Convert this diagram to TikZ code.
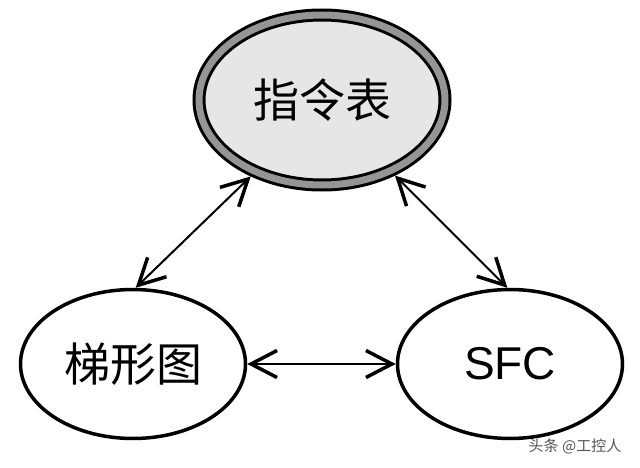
\documentclass[tikz,border=0pt]{standalone}
\usepackage{fontspec}
\setmainfont{Liberation Sans}
\newfontfamily\cjk{Noto Sans CJK SC}
\usetikzlibrary{shapes.geometric,arrows.meta}
\definecolor{ringgray}{HTML}{959595}
\definecolor{innerfill}{HTML}{E6E6E6}
\definecolor{wmgray}{HTML}{555555}
\tikzset{
  bubble/.style={ellipse, draw=black, line width=3.5pt, fill=white, inner sep=0pt,
    minimum width=225pt, minimum height=149pt, font=\fontsize{46}{50}\selectfont},
  mainbubble/.style={ellipse, draw=black, line width=3pt, double=ringgray, double distance=7pt,
    fill=innerfill, inner sep=0pt, minimum width=246pt, minimum height=170pt, outer sep=6.5pt,
    font=\fontsize{46}{50}\selectfont},
  link/.style={line width=2pt,
    {Straight Barb[length=26pt,width=27pt,line width=3.5pt]}-{Straight Barb[length=26pt,width=27pt,line width=3.5pt]}}
}
\begin{document}
\begin{tikzpicture}[x=1pt,y=1pt]
\useasboundingbox (0,0) rectangle (640,467);
\node[mainbubble] (top) at (322,367) {\cjk 指令表};
\node[bubble] (left) at (133,103) {\cjk 梯形图};
\node[bubble] (right) at (510,103) {SFC};
\draw[link] (top.227) -- (left.88);
\draw[link] (top.314) -- (right.92);
\draw[link] (left.east) -- (right.west);
\node[text=wmgray, font=\cjk\fontsize{15}{17}\selectfont, inner sep=1pt] (wm) at (575,21) {头条 @工控人};
\end{tikzpicture}
\end{document}
